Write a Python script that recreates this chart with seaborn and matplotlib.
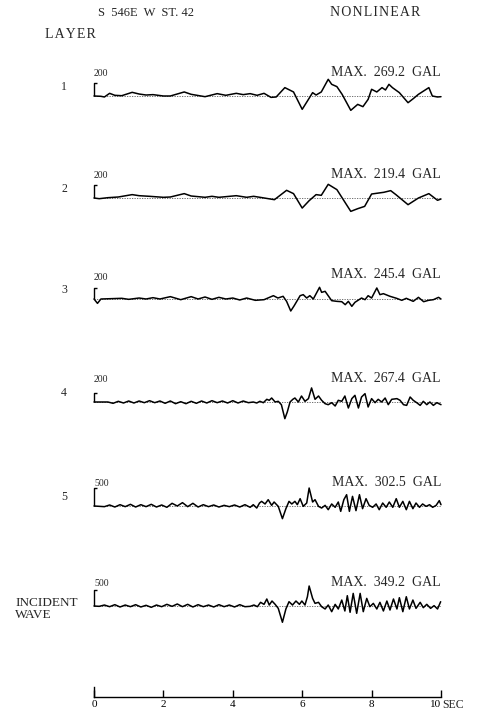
import pandas as pd
import matplotlib
matplotlib.use("Agg")
import matplotlib.pyplot as plt
import seaborn as sns

# ---------------- data ----------------
layers = ["1", "2", "3", "4", "5", "INCIDENT\nWAVE"]
max_gal = [269.2, 219.4, 245.4, 267.4, 302.5, 349.2]
scale_labels = ["200", "200", "200", "200", "500", "500"]
time_ticks = [0, 2, 4, 6, 8, 10]

t1 = [0, 0.2, 0.3, 0.45, 0.6, 0.8, 1.1, 1.3, 1.5, 1.7, 2.0, 2.2, 2.6, 2.8, 3.2, 3.55, 3.8,
      4.1, 4.3, 4.5, 4.7, 4.9, 5.1, 5.25, 5.5, 5.75, 6.0, 6.15, 6.3, 6.4, 6.55, 6.75, 6.85,
      7.0, 7.15, 7.4, 7.6, 7.75, 7.9, 8.0, 8.15, 8.3, 8.4, 8.5, 8.6, 8.8, 9.05, 9.2, 9.35,
      9.65, 9.75, 9.9, 10.0]
a1 = [0, -5, -16, 43, 11, 5, 59, 32, 16, 22, 0, 0, 65, 27, -11, 38, 11,
      43, 22, 38, 11, 43, -22, -16, 135, 65, -215, -81, 54, 16, 65, 269, 188,
      151, 27, -231, -135, -172, -54, 108, 65, 135, 97, 188, 135, 54, -108, -43, 27,
      135, 0, -16, -11]

t2 = [0, 0.15, 0.4, 0.7, 1.1, 1.3, 1.6, 2.0, 2.2, 2.6, 2.8, 3.2, 3.4, 3.6, 4.1, 4.4, 4.6,
      4.85, 5.2, 5.55, 5.75, 6.0, 6.2, 6.4, 6.55, 6.75, 7.0, 7.4, 7.6, 7.8, 8.0, 8.35, 8.55,
      8.7, 9.05, 9.35, 9.65, 9.9, 10.0]
a2 = [0, -11, 5, 16, 54, 37, 27, 11, 16, 70, 32, 11, 27, 11, 37, 11, 27,
      5, -27, 123, 70, -161, -43, 54, 43, 219, 134, -214, -171, -134, 64, 91, 118,
      54, -107, 0, 70, -37, -16]

t3 = [0, 0.1, 0.2, 0.5, 0.8, 1.0, 1.3, 1.5, 1.7, 1.9, 2.2, 2.5, 2.8, 3.0, 3.2, 3.4, 3.6,
      3.8, 4.0, 4.2, 4.4, 4.65, 4.9, 5.17, 5.3, 5.45, 5.55, 5.67, 5.77, 5.94, 6.03, 6.13,
      6.22, 6.32, 6.5, 6.56, 6.66, 6.85, 7.0, 7.14, 7.24, 7.33, 7.43, 7.52, 7.71, 7.81,
      7.9, 8.0, 8.15, 8.24, 8.34, 8.53, 8.72, 8.87, 9.0, 9.2, 9.35, 9.5, 9.64, 9.78, 9.93, 10.0]
a3 = [0, -89, 0, 7, 14, -7, 20, 0, 27, 0, 48, -14, 48, 0, 41, -7, 34,
      0, 20, -20, 20, -27, -14, 68, 20, 55, -48, -245, -136, 68, 89, 20,
      68, 0, 239, 136, 157, -34, -48, -55, -116, -48, -150, -68, 20, -14,
      68, 20, 225, 89, 109, 55, 14, -27, 14, -48, 34, -55, -27, -14, 34, 0]

t4 = [0, 0.4, 0.55, 0.7, 0.85, 1.0, 1.15, 1.3, 1.45, 1.6, 1.75, 1.9, 2.05, 2.2, 2.35, 2.5,
      2.65, 2.8, 2.95, 3.1, 3.25, 3.4, 3.55, 3.7, 3.85, 4.0, 4.15, 4.3, 4.45, 4.59, 4.69,
      4.78, 4.88, 4.98, 5.05, 5.12, 5.22, 5.31, 5.4, 5.5, 5.57, 5.65, 5.73, 5.79, 5.89,
      5.98, 6.08, 6.18, 6.27, 6.37, 6.47, 6.56, 6.66, 6.75, 6.85, 6.95, 7.04, 7.14, 7.23,
      7.33, 7.43, 7.52, 7.62, 7.71, 7.81, 7.9, 8.0, 8.1, 8.19, 8.29, 8.39, 8.48, 8.58,
      8.73, 8.82, 8.92, 9.01, 9.11, 9.2, 9.3, 9.4, 9.49, 9.59, 9.68, 9.78, 9.88, 10.0]
a4 = [0, 0, -21, 11, -16, 16, -16, 16, -11, 21, -11, 16, -21, 16, -27, 5,
      -27, 11, -21, 16, -16, 21, -11, 16, -16, 21, -16, 16, -11, 0, -16,
      11, -11, 43, 27, 64, 0, 11, -43, -267, -160, 0, 43, 64, 0,
      96, 11, 54, 225, 43, 96, 27, -27, -43, -11, -64, 27, 11, 96,
      -96, 54, 107, -96, 80, 134, -80, 54, -11, 43, 0, 64, -43, 43,
      54, 27, -43, -54, 80, 27, -11, -54, 11, -43, 0, -54, -11, -43]

t5 = [0, 0.3, 0.45, 0.6, 0.75, 0.9, 1.05, 1.2, 1.35, 1.5, 1.65, 1.8, 1.95, 2.1, 2.25, 2.4,
      2.55, 2.7, 2.85, 3.0, 3.15, 3.3, 3.45, 3.6, 3.75, 3.9, 4.05, 4.2, 4.35, 4.5, 4.59,
      4.69, 4.77, 4.83, 4.93, 5.02, 5.12, 5.19, 5.31, 5.43, 5.53, 5.62, 5.7, 5.79, 5.86,
      5.94, 6.03, 6.13, 6.2, 6.3, 6.37, 6.47, 6.56, 6.66, 6.75, 6.85, 6.95, 7.04, 7.11,
      7.2, 7.28, 7.36, 7.45, 7.55, 7.65, 7.74, 7.84, 7.93, 8.03, 8.13, 8.22, 8.32, 8.42,
      8.51, 8.61, 8.71, 8.8, 8.9, 9.0, 9.09, 9.19, 9.28, 9.38, 9.47, 9.57, 9.67, 9.76,
      9.86, 9.95, 10.0]
a5 = [0, -11, 17, -17, 22, -11, 28, -17, 22, -11, 28, -17, 17, -22, 45, 0,
      56, -11, 45, -17, 22, -11, 17, -17, 11, -11, 17, -17, 22, -22, 22,
      -34, 50, 78, 34, 106, 11, 67, -6, -213, -45, 78, 34, 78, 22,
      123, -6, 50, 302, 67, 106, -6, -34, 11, -62, 34, -22, 67, -90,
      106, 190, -90, 162, -78, 190, -45, 123, 11, -22, 34, -62, 50, -22,
      67, -22, 123, -22, 78, -62, 78, -45, 50, -22, 34, -6, 22, -22,
      11, 90, 22]

t6 = [0, 0.15, 0.3, 0.45, 0.6, 0.75, 0.9, 1.05, 1.2, 1.35, 1.5, 1.65, 1.8, 1.95, 2.1, 2.25,
      2.4, 2.55, 2.7, 2.85, 3.0, 3.15, 3.3, 3.45, 3.6, 3.75, 3.9, 4.05, 4.2, 4.35, 4.5,
      4.61, 4.71, 4.8, 4.9, 4.98, 5.05, 5.13, 5.22, 5.31, 5.43, 5.53, 5.62, 5.72, 5.82,
      5.92, 5.99, 6.08, 6.15, 6.2, 6.3, 6.37, 6.47, 6.56, 6.66, 6.75, 6.85, 6.95, 7.04,
      7.14, 7.23, 7.3, 7.38, 7.47, 7.57, 7.67, 7.76, 7.86, 7.95, 8.05, 8.15, 8.24, 8.34,
      8.44, 8.53, 8.63, 8.73, 8.8, 8.9, 9.0, 9.09, 9.19, 9.28, 9.4, 9.49, 9.59, 9.7,
      9.8, 9.9, 9.99]
a6 = [0, -6, 17, -12, 23, -17, 17, -12, 23, -17, 12, -23, 17, -12, 29, -6,
      35, -12, 29, -17, 23, -12, 17, -17, 23, -12, 17, -17, 23, -12, -6,
      17, -12, 64, 29, 122, 17, 87, 29, -41, -284, -52, 75, 17, 87,
      29, 87, 17, 162, 349, 133, 46, 64, -12, -52, 17, -99, 29, -52,
      104, -87, 180, -110, 220, -128, 220, -99, 133, -12, 46, -52, 64, -87,
      87, -70, 122, -52, 145, -99, 162, -52, 104, -41, 64, -29, 29, -41,
      6, -52, 75]

# ---------------- build long-form table ----------------
series = [(t1, a1), (t2, a2), (t3, a3), (t4, a4), (t5, a5), (t6, a6)]
frames = [pd.DataFrame({"layer": name, "time": t, "accel": a})
          for name, (t, a) in zip(layers, series)]
df = pd.concat(frames, ignore_index=True)

sns.set_theme(style="white")
plt.rcParams["font.family"] = ["Liberation Serif", "DejaVu Serif"]

W, H = 481, 715
fig = plt.figure(figsize=(W / 100, H / 100), dpi=100)
fig.patch.set_facecolor("white")

X0, X1 = 94, 441
baselines = [96, 198, 299, 402, 506, 606]
peak_px = [16.7, 13.7, 12.0, 16.7, 18.0, 20.0]
bar_px = [13, 13, 11, 9, 18, 16]
HALF = 32
FS = 10
HS = "\u200a"  # hair space for the letter-spaced headings


def fx(x):
    return x / W


def fy(y):
    return 1 - y / H


for i, name in enumerate(layers):
    yb = baselines[i]
    ax = fig.add_axes([fx(X0), fy(yb + HALF), (X1 - X0) / W, 2 * HALF / H])
    g = max_gal[i] / peak_px[i]
    sub = df[df["layer"] == name]
    ax.axhline(0, color="0.35", lw=0.6, ls=(0, (1.5, 1.5)), zorder=0)
    sns.lineplot(data=sub, x="time", y="accel", ax=ax, color="black", linewidth=1.1,
                 estimator=None, sort=False, legend=False)
    hb = bar_px[i] * g
    ax.plot([0, 0, 0.09], [0, hb, hb], color="black", lw=1.0, solid_capstyle="butt")
    for ln in ax.lines:
        ln.set_clip_on(False)
    ax.set_xlim(0, 10)
    ax.set_ylim(-HALF * g, HALF * g)
    ax.axis("off")

    if "\n" in name:
        l1, l2 = name.split("\n")
        fig.text(fx(15), fy(yb - 3), l1, ha="left", va="center", fontsize=9.5)
        fig.text(fx(15), fy(yb + 9), l2, ha="left", va="center", fontsize=9.5)
    else:
        fig.text(fx(64), fy(yb - 9), name, ha="center", va="center", fontsize=8.5)
    fig.text(fx(94), fy(yb - 22), scale_labels[i], ha="left", va="center", fontsize=7)
    fig.text(fx(441), fy(yb - 24), f"MAX.  {max_gal[i]}  GAL", ha="right", va="center",
             fontsize=FS)

# headings
fig.text(fx(98), fy(13), "S  546E  W  ST. 42", ha="left", va="center", fontsize=9)
fig.text(fx(330), fy(13), HS.join("NONLINEAR"), ha="left", va="center", fontsize=FS)
fig.text(fx(45), fy(34), HS.join("LAYER"), ha="left", va="center", fontsize=FS)

# time axis
axt = fig.add_axes([fx(X0), fy(697), (X1 - X0) / W, 10 / H])
axt.set_xlim(0, 10)
axt.set_ylim(0, 1)
axt.set_facecolor("none")
for s in ["top", "right"]:
    axt.spines[s].set_visible(False)
for s in ["bottom", "left"]:
    axt.spines[s].set_color("black")
    axt.spines[s].set_linewidth(1.0)
axt.set_yticks([])
axt.set_xticks(time_ticks)
axt.set_xticklabels([str(v) for v in time_ticks])
axt.tick_params(axis="x", direction="in", length=5, width=1, labelsize=8, pad=2,
                colors="black", bottom=True)
axt.get_xticklabels()[-1].set_horizontalalignment("right")
fig.text(fx(442), fy(705), "SEC", ha="left", va="center", fontsize=8.5)

fig.savefig("out.png", dpi=100, facecolor="white")
